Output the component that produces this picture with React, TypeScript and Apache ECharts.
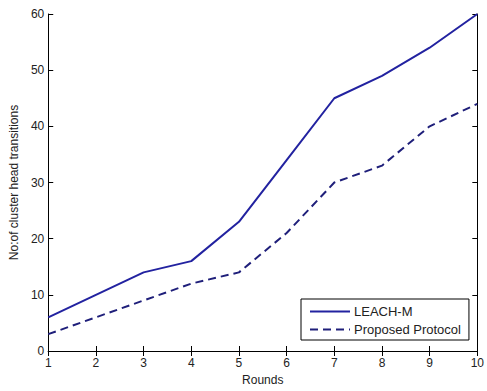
import React, { useEffect, useRef } from "react";
import * as echarts from "echarts";

const rounds = [1, 2, 3, 4, 5, 6, 7, 8, 9, 10];
const leachM = [6, 10, 14, 16, 23, 34, 45, 49, 54, 60];
const proposed = [3, 6, 9, 12, 14, 21, 30, 33, 40, 44];
const seriesNames = ["LEACH-M", "Proposed Protocol"];

export default function App() {
  const ref = useRef<HTMLDivElement>(null);
  useEffect(() => {
    if (!ref.current) return;
    const chart = echarts.init(ref.current, null, { renderer: "svg" });
    const font = "Liberation Sans, Arial, sans-serif";
    const tickCommon = { show: true, inside: true, length: 5, lineStyle: { color: "#000", width: 1 } };
    chart.setOption({
      animation: false,
      backgroundColor: "#fff",
      grid: { left: 48, right: 7, top: 14, bottom: 36, containLabel: false },
      xAxis: [
        {
          type: "value",
          min: 1,
          max: 10,
          interval: 1,
          name: "Rounds",
          nameLocation: "middle",
          nameGap: 23,
          nameTextStyle: { fontFamily: font, fontSize: 12, color: "#222" },
          axisLine: { show: true, lineStyle: { color: "#000", width: 1 } },
          axisTick: tickCommon,
          axisLabel: { fontFamily: font, fontSize: 12, color: "#222", margin: 6 },
          splitLine: { show: false },
        },
        {
          type: "value",
          position: "top",
          min: 1,
          max: 10,
          interval: 1,
          axisLine: { show: true, lineStyle: { color: "#000", width: 1 } },
          axisTick: tickCommon,
          axisLabel: { show: false },
          splitLine: { show: false },
        },
      ],
      yAxis: [
        {
          type: "value",
          min: 0,
          max: 60,
          interval: 10,
          name: "No:of cluster head transitions",
          nameLocation: "middle",
          nameGap: 28,
          nameTextStyle: { fontFamily: font, fontSize: 12, color: "#222" },
          axisLine: { show: true, lineStyle: { color: "#000", width: 1 } },
          axisTick: tickCommon,
          axisLabel: { fontFamily: font, fontSize: 12, color: "#222", margin: 4 },
          splitLine: { show: false },
        },
        {
          type: "value",
          position: "right",
          min: 0,
          max: 60,
          interval: 10,
          axisLine: { show: true, lineStyle: { color: "#000", width: 1 } },
          axisTick: tickCommon,
          axisLabel: { show: false },
          splitLine: { show: false },
        },
      ],
      legend: {
        orient: "vertical",
        left: 301,
        top: 299,
        width: 165,
        padding: [6, 8, 4, 8],
        itemGap: 5,
        itemWidth: 40,
        itemHeight: 14,
        borderColor: "#000",
        borderWidth: 1,
        backgroundColor: "#fff",
        itemStyle: { opacity: 0 },
        textStyle: { fontFamily: font, fontSize: 13, color: "#222", padding: [0, 0, 0, -1] },
        data: seriesNames,
      },
      series: [
        {
          name: seriesNames[0],
          type: "line",
          data: rounds.map((r, i) => [r, leachM[i]]),
          symbol: "none",
          lineStyle: { color: "#2222a0", width: 2, type: "solid" },
          itemStyle: { color: "#2222a0" },
        },
        {
          name: seriesNames[1],
          type: "line",
          data: rounds.map((r, i) => [r, proposed[i]]),
          symbol: "none",
          lineStyle: { color: "#1f1f7a", width: 2, type: [8, 5] },
          itemStyle: { color: "#1f1f7a" },
        },
      ],
    });
    return () => chart.dispose();
  }, []);
  return <div ref={ref} style={{ width: 487, height: 391, position: "absolute", left: 0, top: 0 }} />;
}
